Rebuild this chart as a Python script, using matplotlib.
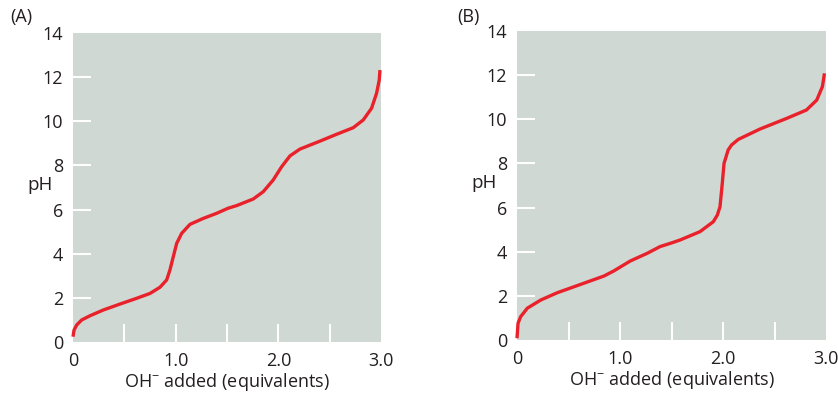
import matplotlib
matplotlib.use("Agg")
import matplotlib.pyplot as plt
from matplotlib.ticker import FixedLocator

plt.rcParams['font.family'] = ['Open Sans', 'DejaVu Sans']
plt.rcParams['mathtext.default'] = 'regular'

# Panel A
a_x = [0.00, 0.01, 0.036, 0.085, 0.166, 0.295, 0.458, 0.62, 0.75, 0.847, 0.912,
       0.944, 0.977, 1.01, 1.058, 1.139, 1.269, 1.399, 1.51, 1.594, 1.756, 1.853,
       1.95, 2.032, 2.113, 2.21, 2.405, 2.567, 2.73, 2.827, 2.908, 2.957, 2.983, 2.99]
a_y = [0.24, 0.54, 0.77, 1.00, 1.19, 1.45, 1.72, 1.98, 2.20, 2.48, 2.81,
       3.26, 3.87, 4.47, 4.92, 5.33, 5.60, 5.83, 6.06, 6.18, 6.48, 6.81,
       7.34, 7.94, 8.43, 8.74, 9.10, 9.41, 9.71, 10.06, 10.59, 11.27, 11.87, 12.32]

# Panel B
b_x = [0.00, 0.01, 0.036, 0.10, 0.23, 0.39, 0.618, 0.845, 0.94, 1.10, 1.265,
       1.388, 1.508, 1.583, 1.777, 1.906, 1.945, 1.971, 1.993, 2.01, 2.05, 2.084,
       2.149, 2.36, 2.618, 2.81, 2.91, 2.965, 2.985]
b_y = [0.08, 0.76, 1.06, 1.44, 1.81, 2.14, 2.52, 2.90, 3.13, 3.58, 3.93,
       4.23, 4.41, 4.53, 4.91, 5.36, 5.66, 6.04, 7.10, 8.00, 8.61, 8.84,
       9.09, 9.56, 10.04, 10.42, 10.87, 11.48, 12.08]

y_ticks = [0, 2, 4, 6, 8, 10, 12, 14]
y_marks = [2, 4, 6, 8, 10, 12]
x_ticks = [0, 1.0, 2.0, 3.0]
x_labels = ["0", "1.0", "2.0", "3.0"]
x_marks = [0.5, 1.0, 1.5, 2.0, 2.5]

W, H = 838, 396
fig = plt.figure(figsize=(W / 100, H / 100), dpi=100)

bg = '#cfd8d3'
red = '#e8212b'
txt = '#231f20'

panels = [
    ("(A)", a_x, a_y, (73, 33, 381, 342), (10, 17)),
    ("(B)", b_x, b_y, (517, 31, 826, 340), (457, 17)),
]

for label, xs, ys, (l, t, r, b), (lx, ly) in panels:
    ax = fig.add_axes([l / W, 1 - b / H, (r - l) / W, (b - t) / H])
    ax.set_facecolor(bg)
    for s in ax.spines.values():
        s.set_visible(False)
    ax.set_xlim(0, 3.0)
    ax.set_ylim(0, 14)
    ax.xaxis.remove_overlapping_locs = False
    ax.yaxis.remove_overlapping_locs = False
    ax.set_yticks(y_ticks)
    ax.set_xticks(x_ticks)
    ax.set_xticklabels(x_labels)
    ax.yaxis.set_minor_locator(FixedLocator(y_marks))
    ax.xaxis.set_minor_locator(FixedLocator(x_marks))
    ax.tick_params(which='major', length=0, labelsize=13, colors=txt, pad=7)
    ax.tick_params(which='minor', direction='in', length=13, width=1.5, color='white')
    ax.plot(xs, ys, color=red, lw=2.4, solid_capstyle='butt',
            solid_joinstyle='round', clip_on=False, zorder=3)
    ax.set_xlabel("OH$^{-}$ added (equivalents)", fontsize=13, color=txt, labelpad=1)
    ax.text(-0.2, 7.1, "pH", fontsize=13.5, color=txt, ha='right', va='center',
            transform=ax.transData)
    fig.text(lx / W, 1 - ly / H, label, fontsize=13, color=txt, ha='left', va='center')

fig.savefig("out.png", dpi=100)
